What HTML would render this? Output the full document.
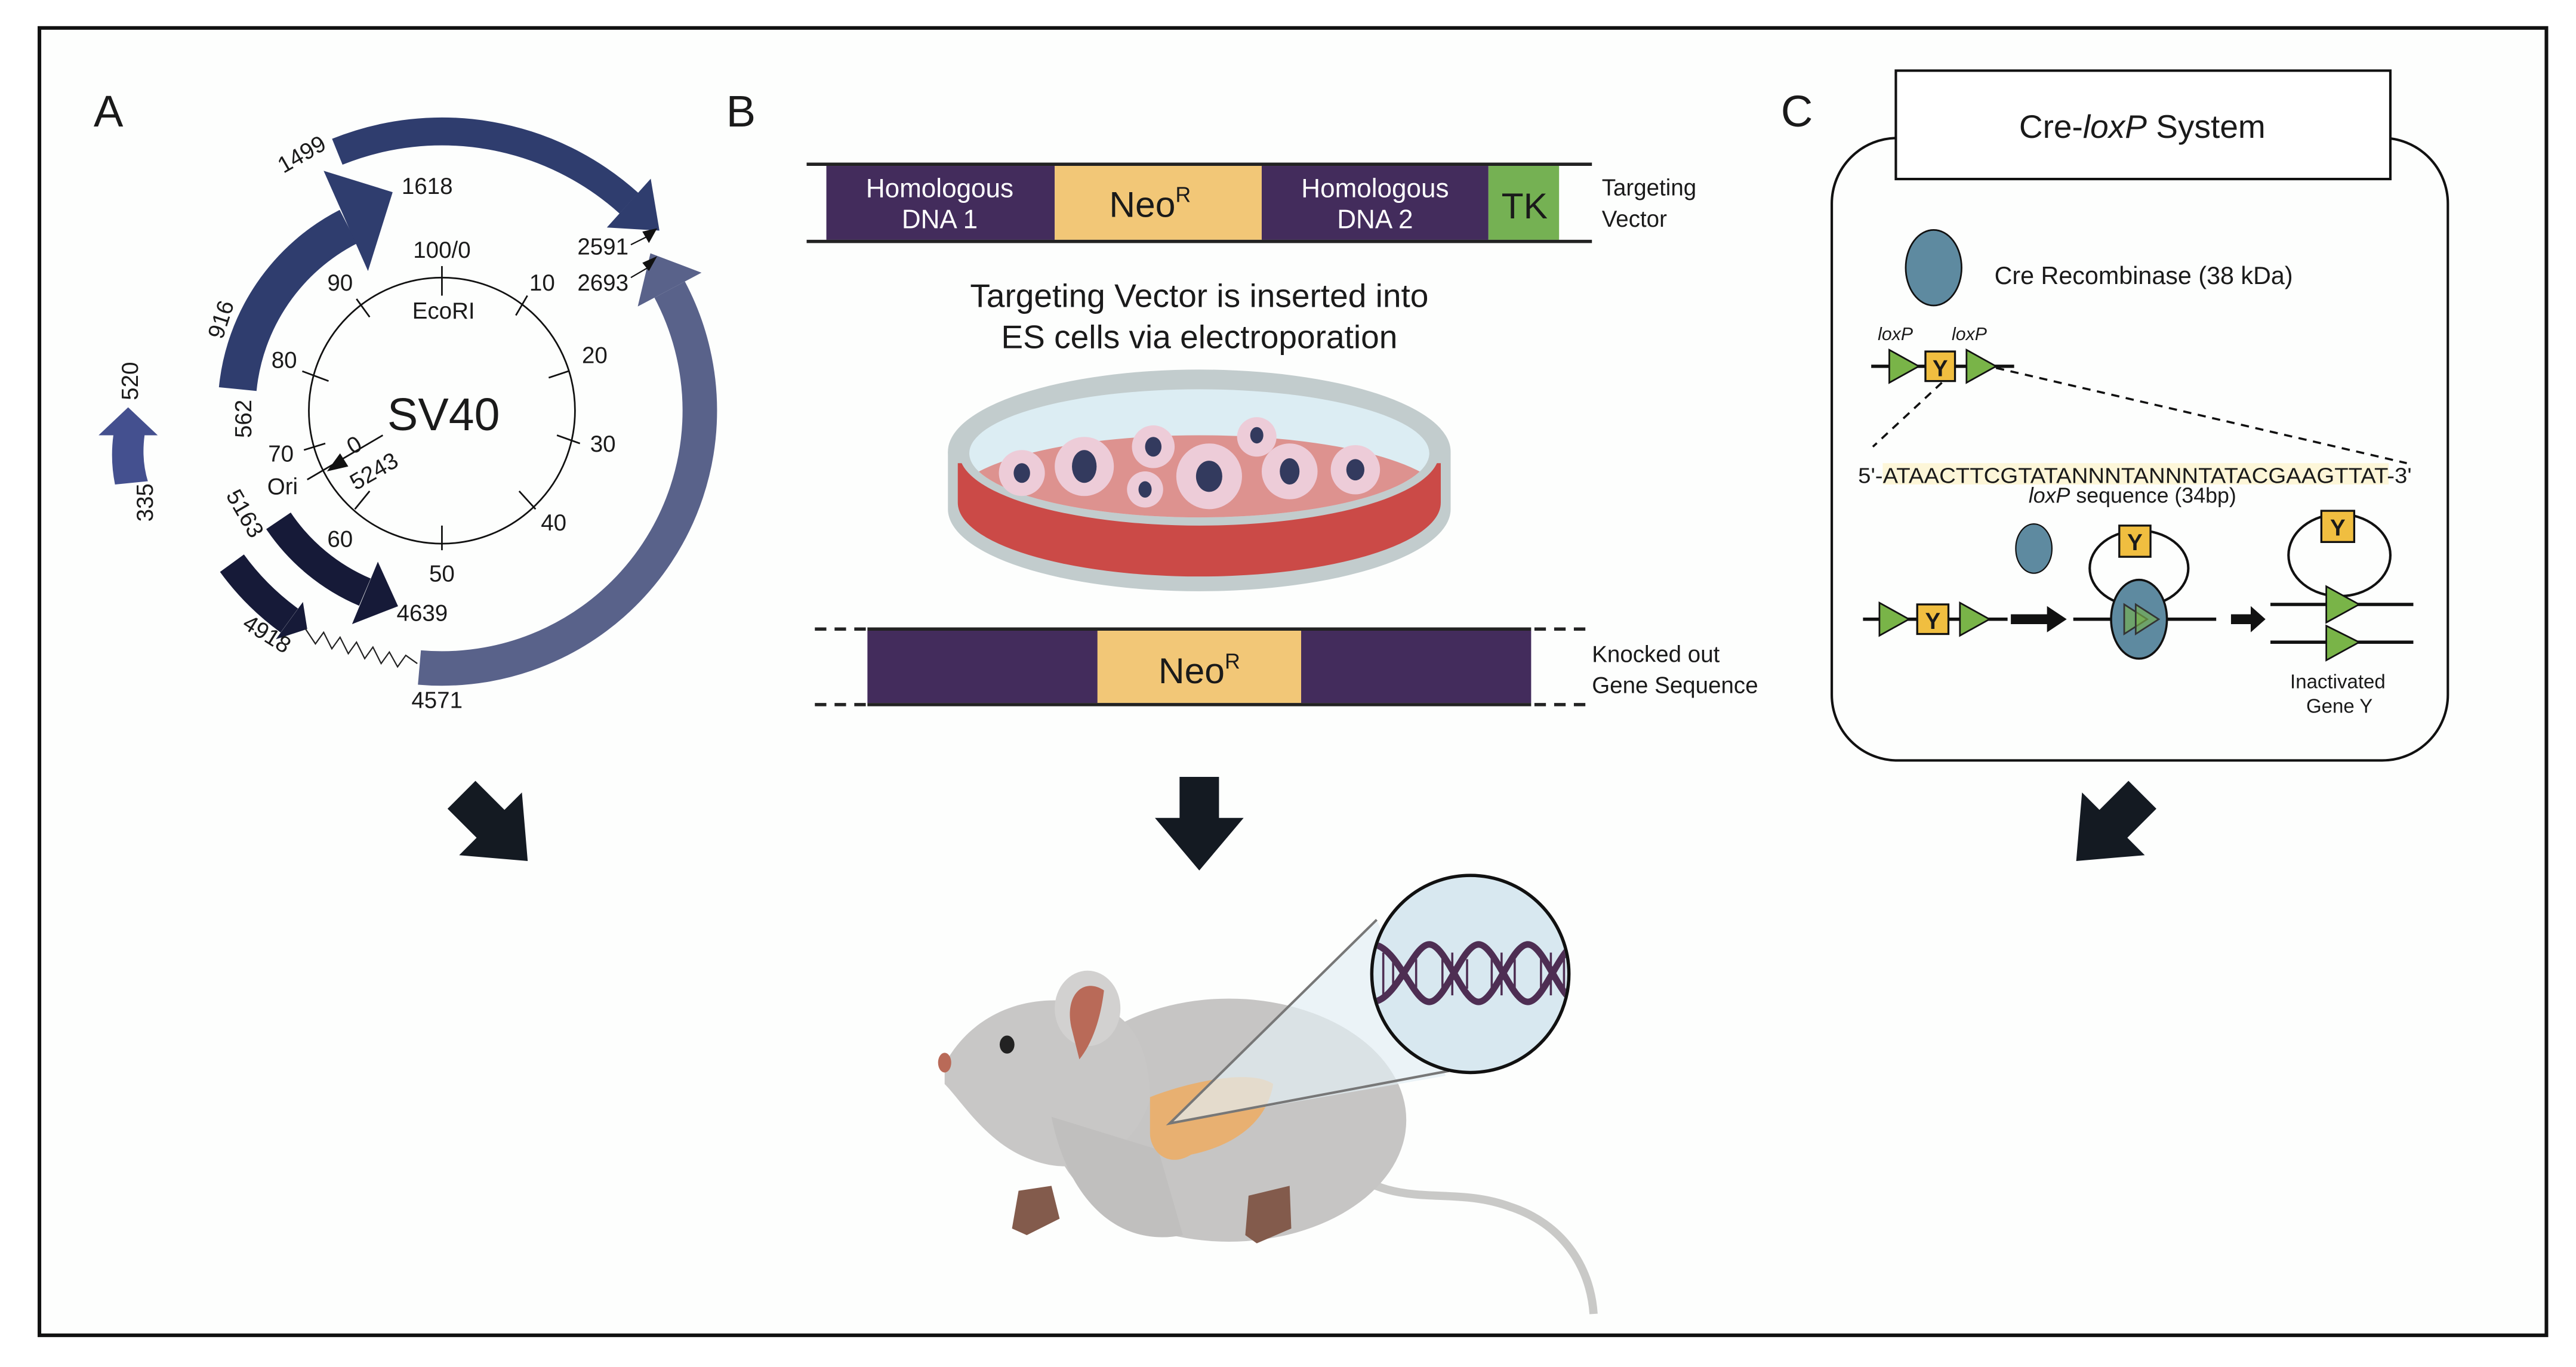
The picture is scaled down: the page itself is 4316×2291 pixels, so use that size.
<!DOCTYPE html>
<html><head><meta charset="utf-8"><style>
html,body{margin:0;padding:0;background:#fff}
svg{display:block}
text{font-family:"Liberation Sans",sans-serif;fill:#1a1a1a}
.n{font-family:"Liberation Sans",sans-serif}
</style></head><body>
<svg width="4316" height="2291" viewBox="0 0 1568 832.3" xmlns="http://www.w3.org/2000/svg">
<rect x="0" y="0" width="1568" height="832.3" fill="#fff"/>
<rect x="24" y="17" width="1526" height="796" fill="#fdfefd" stroke="#111" stroke-width="2.2"/>

<!-- PANEL A -->
<text x="57" y="77" font-size="27">A</text>
<path d="M205.3 92.4 A170 170 0 0 1 382.8 123.7" fill="none" stroke="#2f3d6e" stroke-width="17"/>
<polygon points="396.1,108.8 369.4,138.5 401.4,140.4" fill="#2f3d6e"/>
<path d="M255.3 406.4 A157 157 0 0 0 407.6 176.3" fill="none" stroke="#59628a" stroke-width="21"/>
<polygon points="427,166 388.2,186.6 395.9,154.2" fill="#59628a"/>
<path d="M144.7 236.9 A125 125 0 0 1 212 138" fill="none" stroke="#2f3d6e" stroke-width="23"/>
<polygon points="197,104 224,165 239,117" fill="#2f3d6e"/>
<path d="M169.5 317.1 A120 120 0 0 0 222.1 360.5" fill="none" stroke="#161a38" stroke-width="18"/>
<polygon points="214.3,380 230,342 242.3,369.1" fill="#161a38"/>
<path d="M141.2 342.9 A158 158 0 0 0 176.1 377.8" fill="none" stroke="#161a38" stroke-width="18"/>
<polygon points="167.9,389.2 184.4,366.5 187,383" fill="#161a38"/>
<polyline points="186,383 192,392 197,385 202,395 207,388 212,398 217,391 222,401 227,394 232,404 237,397 242,406 247,399 254,404" fill="none" stroke="#222" stroke-width="0.8"/>
<path d="M70 295 Q67 280 69 265 L60 265 L78 248 L96 265 L88 265 Q86 280 90 293 Z" fill="#44508f"/>
<circle cx="269" cy="250" r="81" fill="none" stroke="#111" stroke-width="1"/>
<g stroke="#111" stroke-width="1">
<line x1="269" y1="162" x2="269" y2="180"/>
<line x1="321" y1="180" x2="314" y2="192"/>
<line x1="346" y1="226" x2="334" y2="230"/>
<line x1="353" y1="270" x2="339" y2="265"/>
<line x1="326" y1="310" x2="316" y2="299"/>
<line x1="269" y1="335" x2="269" y2="320"/>
<line x1="216" y1="310" x2="225" y2="299"/>
<line x1="185" y1="274" x2="198" y2="270"/>
<line x1="184" y1="226" x2="200" y2="232"/>
<line x1="217" y1="182" x2="225" y2="193"/>
<line x1="187" y1="292" x2="233" y2="265"/>
</g>
<polygon points="199,287 207,276 212,284" fill="#111"/>
<g font-size="14" text-anchor="middle">
<text x="269" y="157">100/0</text>
<text x="330" y="177">10</text>
<text x="362" y="221">20</text>
<text x="367" y="275">30</text>
<text x="337" y="323">40</text>
<text x="269" y="354">50</text>
<text x="207" y="333">60</text>
<text x="171" y="281">70</text>
<text x="173" y="224">80</text>
<text x="207" y="177">90</text>
<text x="270" y="194">EcoRI</text>
<text x="172" y="301">Ori</text>
<text x="260" y="118">1618</text>
<text x="266" y="431">4571</text>
<text x="257" y="378">4639</text>
<text x="367" y="155">2591</text>
<text x="367" y="177">2693</text>
<text transform="translate(218,275) rotate(-30)">0</text>
<text transform="translate(230,291) rotate(-30)">5243</text>
<text transform="translate(186,98) rotate(-30)">1499</text>
<text transform="translate(139,196) rotate(-72)">916</text>
<text transform="translate(153,255) rotate(-90)">562</text>
<text transform="translate(84,232) rotate(-90)">520</text>
<text transform="translate(93,306) rotate(-90)">335</text>
<text transform="translate(145,315) rotate(60)">5163</text>
<text transform="translate(160,390) rotate(32)">4918</text>
</g>
<text x="270" y="262" font-size="28" text-anchor="middle">SV40</text>
<g stroke="#111" stroke-width="0.8"><line x1="384" y1="149" x2="396" y2="143"/><line x1="384" y1="169" x2="396" y2="162"/></g>
<polygon points="391,141 400,139 395,148" fill="#111"/>
<polygon points="391,160 400,156 395,165" fill="#111"/>

<!-- PANEL B -->
<text x="442" y="77" font-size="27">B</text>
<rect x="503" y="101" width="139" height="45" fill="#432c5c"/>
<rect x="642" y="101" width="126" height="45" fill="#f2c777"/>
<rect x="768" y="101" width="138" height="45" fill="#432c5c"/>
<rect x="906" y="101" width="43" height="45" fill="#75b153"/>
<line x1="491" y1="100" x2="969" y2="100" stroke="#222" stroke-width="2"/>
<line x1="491" y1="147" x2="969" y2="147" stroke="#222" stroke-width="2"/>
<g font-size="16" text-anchor="middle">
<text x="572" y="120" style="fill:#fff">Homologous</text>
<text x="572" y="139" style="fill:#fff">DNA 1</text>
<text x="837" y="120" style="fill:#fff">Homologous</text>
<text x="837" y="139" style="fill:#fff">DNA 2</text>
</g>
<text x="700" y="132" font-size="22" text-anchor="middle">Neo<tspan font-size="13" dy="-9">R</tspan></text>
<text x="928" y="133" font-size="22" text-anchor="middle">TK</text>
<text x="975" y="119" font-size="14">Targeting</text>
<text x="975" y="138" font-size="14">Vector</text>
<text x="730" y="187" font-size="20" text-anchor="middle">Targeting Vector is inserted into</text>
<text x="730" y="212" font-size="20" text-anchor="middle">ES cells via electroporation</text>
<path d="M577 275 L577 310 A153 50 0 0 0 883 310 L883 275 Z" fill="#c2cccd"/>
<ellipse cx="730" cy="275" rx="153" ry="50" fill="#c2cccd"/>
<path d="M583 282 L583 306 A147 45 0 0 0 877 306 L877 282 Z" fill="#cb4a47"/>
<ellipse cx="730" cy="276" rx="146" ry="44" fill="#c2cccd"/>
<ellipse cx="730" cy="276" rx="140" ry="39" fill="#dcedf3"/>
<clipPath id="dc"><ellipse cx="730" cy="276" rx="140" ry="39"/></clipPath>
<ellipse cx="730" cy="305" rx="150" ry="40" fill="#dd928f" clip-path="url(#dc)"/>
<g fill="#edccd8">
<circle cx="622" cy="288" r="14"/><circle cx="660" cy="284" r="18"/><circle cx="702" cy="272" r="13"/>
<circle cx="697" cy="298" r="11"/><circle cx="736" cy="290" r="20"/><circle cx="765" cy="266" r="12"/>
<circle cx="785" cy="287" r="17"/><circle cx="825" cy="286" r="15"/>
</g>
<g fill="#333a5e">
<ellipse cx="622" cy="288" rx="5" ry="6"/><ellipse cx="660" cy="284" rx="7.5" ry="10"/><ellipse cx="702" cy="272" rx="5" ry="6"/>
<ellipse cx="697" cy="298" rx="4" ry="5"/><ellipse cx="736" cy="290" rx="8" ry="9.5"/><ellipse cx="765" cy="265" rx="4" ry="5"/>
<ellipse cx="785" cy="287" rx="6" ry="8"/><ellipse cx="825" cy="286" rx="5.5" ry="6.5"/>
</g>
<rect x="528" y="384" width="404" height="44" fill="#432c5c"/>
<rect x="668" y="384" width="124" height="44" fill="#f2c777"/>
<line x1="528" y1="383" x2="932" y2="383" stroke="#222" stroke-width="2"/>
<line x1="528" y1="429" x2="932" y2="429" stroke="#222" stroke-width="2"/>
<g stroke="#222" stroke-width="2" stroke-dasharray="7,5">
<line x1="496" y1="383" x2="527" y2="383"/><line x1="496" y1="429" x2="527" y2="429"/>
<line x1="934" y1="383" x2="965" y2="383"/><line x1="934" y1="429" x2="965" y2="429"/>
</g>
<text x="730" y="416" font-size="22" text-anchor="middle">Neo<tspan font-size="13" dy="-9">R</tspan></text>
<text x="969" y="403" font-size="14">Knocked out</text>
<text x="969" y="422" font-size="14">Gene Sequence</text>

<g fill="#141a22">
<polygon points="718,473 742,473 742,498 757,498 730,530 703,498 718,498"/>
<polygon transform="rotate(-45 300 503)" points="288,476 312,476 312,501 327,501 300,533 273,501 288,501"/>
<polygon transform="rotate(45 1285 503)" points="1273,476 1297,476 1297,501 1312,501 1285,533 1258,501 1273,501"/>
</g>

<!-- mouse -->
<path d="M810 705 C850 740 880 720 920 735 C950 745 968 770 970 800" fill="none" stroke="#c9c9c7" stroke-width="5"/>
<ellipse cx="748" cy="682" rx="108" ry="74" fill="#c6c5c4"/>
<path d="M575 648 C590 620 620 605 655 610 C690 612 700 640 700 670 C690 700 660 720 625 705 C600 695 585 670 575 660 Z" fill="#c8c7c6"/>
<path d="M640 680 C650 730 680 760 720 752 L705 700 Z" fill="#c0bfbe"/>
<ellipse cx="662" cy="614" rx="20" ry="23" fill="#d2d1d0"/>
<path d="M652 625 C648 605 660 595 672 603 C670 620 665 635 657 645 Z" fill="#b96a58"/>
<ellipse cx="613" cy="636" rx="4.5" ry="5.5" fill="#222"/>
<ellipse cx="575" cy="647" rx="4" ry="6" fill="#b96a58"/>
<path d="M620 725 L640 722 L645 742 L625 752 L616 748 Z" fill="#835b4c"/>
<path d="M760 728 L785 722 L786 748 L765 757 L758 752 Z" fill="#835b4c"/>
<path d="M700 668 C720 660 760 650 775 660 C770 690 740 700 725 703 C710 712 700 700 700 690 Z" fill="#e8b071"/>
<polygon points="712,684 838,560 880,655" fill="#e3eef4" fill-opacity="0.7"/>
<polyline points="838,560 712,684 882,652" fill="none" stroke="#777" stroke-width="1.5"/>
<circle cx="895" cy="593" r="60" fill="#d8e8f0" stroke="#111" stroke-width="2"/>
<clipPath id="cc"><circle cx="895" cy="593" r="59"/></clipPath>
<g clip-path="url(#cc)" fill="none" stroke="#4e2e53" stroke-width="4">
<path d="M835 575 C850 575 860 610 870 610 C880 610 890 575 900 575 C910 575 920 610 930 610 C940 610 950 575 960 575"/>
<path d="M835 610 C850 610 860 575 870 575 C880 575 890 610 900 610 C910 610 920 575 930 575 C940 575 950 610 960 610"/>
<g stroke-width="1.3"><line x1="842" y1="580" x2="842" y2="606"/><line x1="848" y1="584" x2="848" y2="602"/><line x1="862" y1="584" x2="862" y2="602"/><line x1="878" y1="580" x2="878" y2="606"/><line x1="884" y1="580" x2="884" y2="606"/><line x1="893" y1="584" x2="893" y2="602"/><line x1="908" y1="580" x2="908" y2="606"/><line x1="914" y1="580" x2="914" y2="606"/><line x1="922" y1="584" x2="922" y2="602"/><line x1="938" y1="580" x2="938" y2="606"/><line x1="944" y1="580" x2="944" y2="606"/><line x1="952" y1="584" x2="952" y2="602"/></g>
</g>

<!-- PANEL C -->
<text x="1084" y="77" font-size="27">C</text>
<rect x="1115" y="84" width="375" height="379" rx="40" fill="none" stroke="#111" stroke-width="1.5"/>
<rect x="1154" y="43" width="301" height="66" fill="#fff" stroke="#111" stroke-width="1.5"/>
<text x="1304" y="84" font-size="20" text-anchor="middle">Cre-<tspan font-style="italic">loxP</tspan> System</text>
<ellipse cx="1177" cy="163" rx="17" ry="23" fill="#5e8aa0" stroke="#111" stroke-width="1"/>
<text x="1214" y="173" font-size="15">Cre Recombinase (38 kDa)</text>
<text x="1143" y="207" font-size="11" font-style="italic">loxP</text>
<text x="1188" y="207" font-size="11" font-style="italic">loxP</text>
<line x1="1139" y1="223" x2="1226" y2="223" stroke="#111" stroke-width="2"/>
<polygon points="1150,213 1168,223 1150,233" fill="#79b448" stroke="#111" stroke-width="1"/>
<rect x="1172" y="214" width="18" height="18" fill="#f0be40" stroke="#111" stroke-width="1.2"/>
<text x="1181" y="229" font-size="14" font-weight="bold" text-anchor="middle">Y</text>
<polygon points="1197,213 1215,223 1197,233" fill="#79b448" stroke="#111" stroke-width="1"/>
<g stroke="#111" stroke-width="1.3" stroke-dasharray="5,4" fill="none">
<line x1="1182" y1="233" x2="1140" y2="272"/><line x1="1215" y1="224" x2="1465" y2="282"/>
</g>
<rect x="1146" y="282" width="308" height="13" fill="#fdf6d8"/>
<text x="1131" y="294" font-size="13" textLength="337" lengthAdjust="spacingAndGlyphs">5'-ATAACTTCGTATANNNTANNNTATACGAAGTTAT-3'</text>
<text x="1298" y="306" font-size="13" text-anchor="middle"><tspan font-style="italic">loxP</tspan> sequence (34bp)</text>
<ellipse cx="1238" cy="334" rx="11" ry="15" fill="#5e8aa0" stroke="#111" stroke-width="0.8"/>
<line x1="1134" y1="377" x2="1222" y2="377" stroke="#111" stroke-width="2"/>
<polygon points="1144,367 1162,377 1144,387" fill="#79b448" stroke="#111" stroke-width="1"/>
<rect x="1167" y="368" width="19" height="18" fill="#f0be40" stroke="#111" stroke-width="1.2"/>
<text x="1176.5" y="383" font-size="14" font-weight="bold" text-anchor="middle">Y</text>
<polygon points="1193,367 1211,377 1193,387" fill="#79b448" stroke="#111" stroke-width="1"/>
<polygon points="1224,374 1246,374 1246,369 1258,377 1246,385 1246,380 1224,380" fill="#111"/>
<ellipse cx="1302" cy="346" rx="30" ry="23" fill="none" stroke="#111" stroke-width="1.5"/>
<line x1="1262" y1="377" x2="1349" y2="377" stroke="#111" stroke-width="2"/>
<ellipse cx="1302" cy="377" rx="17" ry="24" fill="#5e8aa0" stroke="#111" stroke-width="1.3"/>
<polygon points="1293,368 1307,377 1293,386" fill="#79b448" fill-opacity="0.6" stroke="#333" stroke-width="1"/>
<polygon points="1300,368 1314,377 1300,386" fill="#79b448" fill-opacity="0.6" stroke="#333" stroke-width="1"/>
<rect x="1290" y="320" width="19" height="19" fill="#f0be40" stroke="#111" stroke-width="1.2"/>
<text x="1299.5" y="335" font-size="14" font-weight="bold" text-anchor="middle">Y</text>
<polygon points="1358,374 1370,374 1370,369 1379,377 1370,385 1370,380 1358,380" fill="#111"/>
<ellipse cx="1424" cy="338" rx="31" ry="25" fill="none" stroke="#111" stroke-width="1.5"/>
<line x1="1382" y1="368" x2="1469" y2="368" stroke="#111" stroke-width="2"/>
<line x1="1382" y1="391" x2="1469" y2="391" stroke="#111" stroke-width="2"/>
<polygon points="1416,357 1436,368 1416,379" fill="#79b448" stroke="#111" stroke-width="1"/>
<polygon points="1416,381 1436,391 1416,402" fill="#79b448" stroke="#111" stroke-width="1"/>
<rect x="1413" y="311" width="20" height="19" fill="#f0be40" stroke="#111" stroke-width="1.2"/>
<text x="1423" y="326" font-size="14" font-weight="bold" text-anchor="middle">Y</text>
<text x="1423" y="419" font-size="12" text-anchor="middle">Inactivated</text>
<text x="1424" y="434" font-size="12" text-anchor="middle">Gene Y</text>
</svg>
</body></html>
